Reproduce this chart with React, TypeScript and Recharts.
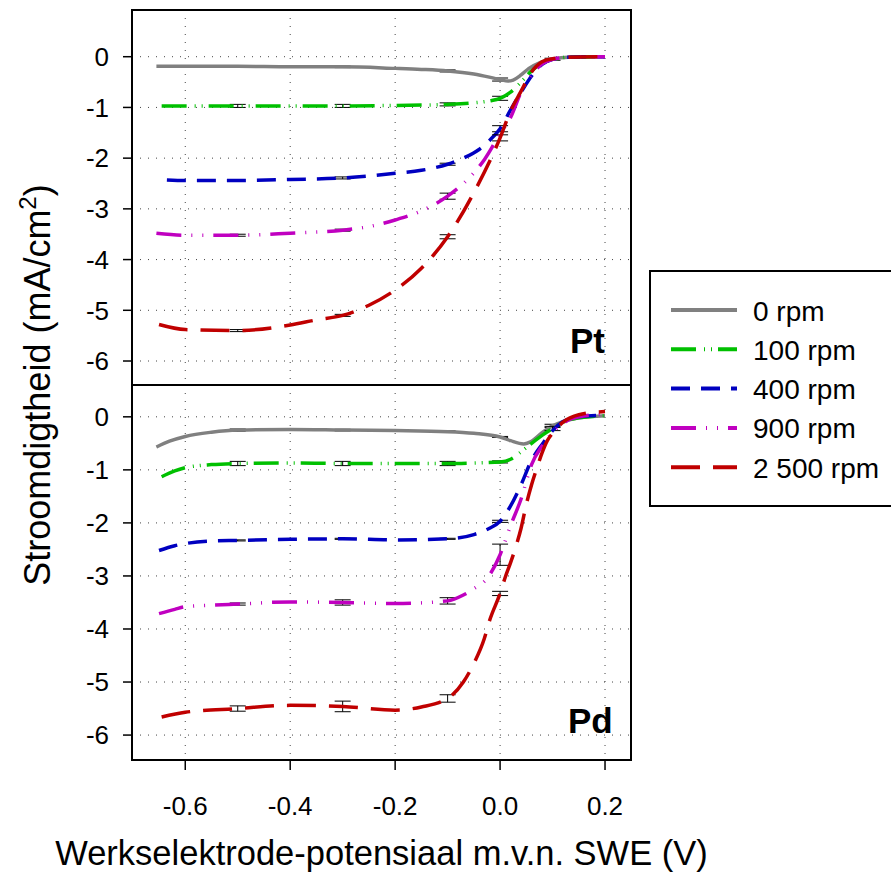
import React from 'react';
import { LineChart, Line, XAxis, YAxis, CartesianGrid, ErrorBar, ReferenceArea, Legend } from 'recharts';

// ---------- series meta ----------
const seriesNames = ['0 rpm', '100 rpm', '400 rpm', '900 rpm', '2 500 rpm'];
const seriesColors = ['#808080', '#00c000', '#0000c0', '#c000c0', '#c00000'];
const seriesDash = ['', '25 8 1 6 1 6', '19 11', '25 10 1 10 1 10', '29 13'];

const xTicks = [-0.6, -0.4, -0.2, 0, 0.2];
const yTicks = [0, -1, -2, -3, -4, -5, -6];
const xDomain = [-0.7015, 0.2495];
const ptYDomain = [-6.473, 0.921];
const pdYDomain = [-6.47, 0.6];

// ---------- Pt panel ----------
const ptX0 = [-0.655, -0.6, -0.5, -0.4, -0.3, -0.2, -0.15, -0.1, -0.05, 0, 0.015, 0.025, 0.04, 0.055, 0.075, 0.1, 0.13, 0.2];
const ptY0 = [-0.19, -0.19, -0.19, -0.2, -0.2, -0.23, -0.25, -0.28, -0.34, -0.45, -0.48, -0.46, -0.36, -0.23, -0.12, -0.05, -0.01, 0];
const ptE0 = [[-0.5, 0.015], [-0.3, 0.015], [-0.1, 0.02], [0, 0.03], [0.1, 0.02]];

const ptX1 = [-0.645, -0.6, -0.5, -0.4, -0.3, -0.2, -0.1, -0.05, -0.02, 0, 0.02, 0.04, 0.06, 0.08, 0.1, 0.13, 0.2];
const ptY1 = [-0.97, -0.97, -0.97, -0.97, -0.97, -0.96, -0.94, -0.91, -0.87, -0.82, -0.7, -0.5, -0.28, -0.13, -0.06, -0.01, 0];
const ptE1 = [[-0.5, 0.03], [-0.3, 0.03], [-0.1, 0.03], [0, 0.04]];

const ptX2 = [-0.635, -0.6, -0.5, -0.4, -0.3, -0.2, -0.15, -0.1, -0.07, -0.04, -0.02, 0, 0.02, 0.04, 0.06, 0.08, 0.1, 0.13, 0.2];
const ptY2 = [-2.43, -2.44, -2.44, -2.42, -2.39, -2.3, -2.24, -2.12, -2.0, -1.83, -1.65, -1.42, -1.05, -0.7, -0.38, -0.15, -0.05, -0.01, 0];
const ptE2 = [[-0.3, 0.02], [-0.1, 0.02], [0, 0.06]];

const ptX3 = [-0.655, -0.6, -0.5, -0.4, -0.3, -0.25, -0.2, -0.15, -0.1, -0.05, -0.03, 0, 0.02, 0.04, 0.06, 0.08, 0.1, 0.13, 0.2];
const ptY3 = [-3.48, -3.52, -3.52, -3.48, -3.42, -3.35, -3.22, -3.04, -2.75, -2.29, -2.03, -1.52, -1.2, -0.7, -0.36, -0.14, -0.05, -0.01, 0];
const ptE3 = [[-0.5, 0.02], [-0.3, 0.02], [-0.1, 0.06]];

const ptX4 = [-0.65, -0.6, -0.5, -0.4, -0.35, -0.3, -0.25, -0.2, -0.15, -0.1, -0.05, 0, 0.02, 0.04, 0.06, 0.08, 0.1, 0.13, 0.2];
const ptY4 = [-5.28, -5.38, -5.4, -5.29, -5.19, -5.1, -4.9, -4.6, -4.17, -3.55, -2.68, -1.6, -1.07, -0.68, -0.3, -0.1, -0.04, -0.01, 0];
const ptE4 = [[-0.5, 0.02], [-0.3, 0.02], [-0.1, 0.04], [0, 0.06]];

// ---------- Pd panel ----------
const pdX0 = [-0.655, -0.63, -0.6, -0.55, -0.5, -0.4, -0.3, -0.2, -0.1, -0.05, 0, 0.02, 0.045, 0.06, 0.08, 0.1, 0.12, 0.15, 0.2];
const pdY0 = [-0.57, -0.46, -0.37, -0.29, -0.25, -0.24, -0.25, -0.26, -0.28, -0.31, -0.38, -0.45, -0.51, -0.46, -0.3, -0.17, -0.09, -0.02, 0.02];
const pdE0 = [[-0.5, 0.02], [-0.3, 0.015], [-0.1, 0.015], [0, 0.01], [0.1, 0.03]];

const pdX1 = [-0.645, -0.62, -0.6, -0.55, -0.5, -0.4, -0.3, -0.2, -0.1, -0.05, 0, 0.02, 0.04, 0.06, 0.08, 0.1, 0.12, 0.15, 0.2];
const pdY1 = [-1.13, -1.02, -0.96, -0.9, -0.88, -0.87, -0.88, -0.88, -0.88, -0.87, -0.85, -0.8, -0.66, -0.5, -0.35, -0.22, -0.1, -0.02, 0.02];
const pdE1 = [[-0.5, 0.04], [-0.3, 0.04], [-0.1, 0.04], [0, 0.02], [0.1, 0.04]];

const pdX2 = [-0.65, -0.62, -0.6, -0.55, -0.5, -0.4, -0.3, -0.2, -0.1, -0.05, -0.02, 0, 0.02, 0.04, 0.06, 0.08, 0.1, 0.12, 0.15, 0.2];
const pdY2 = [-2.52, -2.43, -2.39, -2.34, -2.33, -2.31, -2.3, -2.32, -2.3, -2.22, -2.1, -1.97, -1.68, -1.28, -0.82, -0.52, -0.26, -0.09, 0, 0.03];
const pdE2 = [[-0.5, 0.01], [-0.3, 0.01], [-0.1, 0.01], [0, 0.02]];

const pdX3 = [-0.65, -0.62, -0.6, -0.55, -0.5, -0.4, -0.3, -0.2, -0.1, -0.07, -0.05, -0.025, 0, 0.02, 0.04, 0.06, 0.08, 0.1, 0.12, 0.15, 0.2];
const pdY3 = [-3.71, -3.63, -3.58, -3.55, -3.53, -3.49, -3.5, -3.52, -3.47, -3.36, -3.24, -3.05, -2.6, -2.05, -1.55, -0.9, -0.55, -0.3, -0.12, 0, 0.05];
const pdE3 = [[-0.5, 0.02], [-0.3, 0.05], [-0.1, 0.06], [0, 0.2]];

const pdX4 = [-0.645, -0.6, -0.5, -0.4, -0.3, -0.2, -0.15, -0.1, -0.07, -0.05, -0.03, -0.02, 0, 0.01, 0.02, 0.03, 0.04, 0.05, 0.06, 0.07, 0.08, 0.09, 0.1, 0.12, 0.15, 0.2];
const pdY4 = [-5.66, -5.57, -5.5, -5.44, -5.46, -5.53, -5.47, -5.31, -5.0, -4.65, -4.18, -3.84, -3.33, -3.02, -2.75, -2.45, -2.1, -1.65, -1.28, -0.97, -0.68, -0.45, -0.31, -0.1, 0.04, 0.1];
const pdE4 = [[-0.5, 0.05], [-0.3, 0.1], [-0.1, 0.07], [0, 0.04]];

// ---------- build ----------
function build(xs: number[], ys: number[], errs: number[][]) {
  const m = new Map<number, number>(errs.map((p) => [p[0], p[1]] as [number, number]));
  return xs.map((x, i) => ({ x, y: ys[i], e: m.has(x) ? m.get(x) : undefined }));
}

const ptData = [
  build(ptX0, ptY0, ptE0),
  build(ptX1, ptY1, ptE1),
  build(ptX2, ptY2, ptE2),
  build(ptX3, ptY3, ptE3),
  build(ptX4, ptY4, ptE4),
];
const pdData = [
  build(pdX0, pdY0, pdE0),
  build(pdX1, pdY1, pdE1),
  build(pdX2, pdY2, pdE2),
  build(pdX3, pdY3, pdE3),
  build(pdX4, pdY4, pdE4),
];

const FONT = 'Liberation Sans, Arial, sans-serif';
const tickStyle = { fill: '#000', fontSize: 26, fontFamily: FONT };
const tickLineStyle = { stroke: '#000', strokeWidth: 1.5 };

function renderLines(datasets: any[]) {
  return datasets.map((d, i) => (
    <Line
      key={seriesNames[i]}
      data={d}
      dataKey="y"
      type="monotone"
      stroke={seriesColors[i]}
      strokeWidth={3.5}
      strokeDasharray={seriesDash[i] || undefined}
      dot={false}
      activeDot={false}
      isAnimationActive={false}
      name={seriesNames[i]}
    >
      <ErrorBar dataKey="e" width={8} stroke="#000" strokeWidth={1} direction="y" isAnimationActive={false} />
    </Line>
  ));
}

const YTitle = (props: any) => {
  const vb = props.viewBox || { x: 0, y: 0, width: 0, height: 0 };
  const cx = vb.x + 50;
  const cy = vb.y + vb.height;
  return (
    <text x={cx} y={cy} transform={`rotate(-90 ${cx} ${cy})`} textAnchor="middle" fontSize={36} fill="#000" fontFamily={FONT}>
      Stroomdigtheid (mA/cm
      <tspan dy={-14} fontSize={24}>2</tspan>
      <tspan dy={14}>)</tspan>
    </text>
  );
};

const XTitle = (props: any) => {
  const vb = props.viewBox || { x: 0, y: 0, width: 0, height: 0 };
  return (
    <text x={vb.x + vb.width / 2} y={vb.y + 105} textAnchor="middle" fontSize={34.5} fill="#000" fontFamily={FONT}>
      Werkselektrode-potensiaal m.v.n. SWE (V)
    </text>
  );
};

const panelName = (name: string, dx: number, dy: number) => (props: any) => {
  const vb = props.viewBox || { x: 0, y: 0, width: 0, height: 0 };
  return (
    <text x={vb.x + vb.width - dx} y={vb.y + vb.height - dy} fontSize={35} fontWeight="bold" fill="#000" fontFamily={FONT}>
      {name}
    </text>
  );
};

const LegendBox = () => (
  <div style={{ width: 242, height: 237, boxSizing: 'border-box', borderTop: '2px solid #000', borderLeft: '2px solid #000', borderBottom: '2px solid #000', background: '#fff' }}>
    <svg width={240} height={233} style={{ display: 'block' }}>
      {seriesNames.map((n, i) => {
        const cy = 38 + i * 39.3;
        return (
          <g key={n}>
            <line x1={20} x2={86} y1={cy} y2={cy} stroke={seriesColors[i]} strokeWidth={4} strokeDasharray={seriesDash[i] || undefined} />
            <text x={102} y={cy + 10.5} fontSize={28} fill="#000" fontFamily={FONT}>{n}</text>
          </g>
        );
      })}
    </svg>
  </div>
);

export default function App() {
  return (
    <div style={{ position: 'absolute', left: 0, top: 0, width: 891, height: 887, overflow: 'hidden', background: '#fff', fontFamily: FONT }}>
      <div style={{ position: 'absolute', left: 0, top: 0 }}>
        <LineChart width={891} height={887} margin={{ top: 10, right: 260, bottom: 502, left: 0 }}>
          <CartesianGrid stroke="#444" strokeDasharray="1 7" />
          <XAxis type="number" dataKey="x" domain={xDomain} ticks={xTicks} allowDataOverflow hide />
          <YAxis
            type="number"
            domain={ptYDomain}
            ticks={yTicks}
            allowDataOverflow
            width={132}
            axisLine={false}
            tickSize={9}
            tickMargin={14}
            tick={tickStyle}
            tickLine={tickLineStyle}
            tickFormatter={(v: number) => String(v)}
            label={{ content: YTitle }}
          />
          {renderLines(ptData)}
          <ReferenceArea
            x1={xDomain[0]}
            x2={xDomain[1]}
            y1={ptYDomain[0]}
            y2={ptYDomain[1]}
            fill="none"
            fillOpacity={0}
            stroke="#000"
            strokeWidth={2}
            ifOverflow="visible"
            label={{ content: panelName('Pt', 61, 32) }}
          />
          <Legend
            content={LegendBox}
            layout="vertical"
            align="center"
            verticalAlign="middle"
            wrapperStyle={{ left: 649, top: 270, width: 242, height: 237 }}
          />
        </LineChart>
      </div>
      <div style={{ position: 'absolute', left: 0, top: 385 }}>
        <LineChart width={891} height={502} margin={{ top: 0, right: 260, bottom: 0, left: 0 }}>
          <CartesianGrid stroke="#444" strokeDasharray="1 7" />
          <XAxis
            type="number"
            dataKey="x"
            domain={xDomain}
            ticks={xTicks}
            allowDataOverflow
            height={127}
            axisLine={false}
            tickSize={10}
            tickMargin={27}
            tick={tickStyle}
            tickLine={tickLineStyle}
            tickFormatter={(v: number) => v.toFixed(1)}
            label={{ content: XTitle }}
          />
          <YAxis
            type="number"
            domain={pdYDomain}
            ticks={yTicks}
            allowDataOverflow
            width={132}
            axisLine={false}
            tickSize={9}
            tickMargin={14}
            tick={tickStyle}
            tickLine={tickLineStyle}
            tickFormatter={(v: number) => String(v)}
          />
          {renderLines(pdData)}
          <ReferenceArea
            x1={xDomain[0]}
            x2={xDomain[1]}
            y1={pdYDomain[0]}
            y2={pdYDomain[1]}
            fill="none"
            fillOpacity={0}
            stroke="#000"
            strokeWidth={2}
            ifOverflow="visible"
            label={{ content: panelName('Pd', 63, 27) }}
          />
        </LineChart>
      </div>
    </div>
  );
}
